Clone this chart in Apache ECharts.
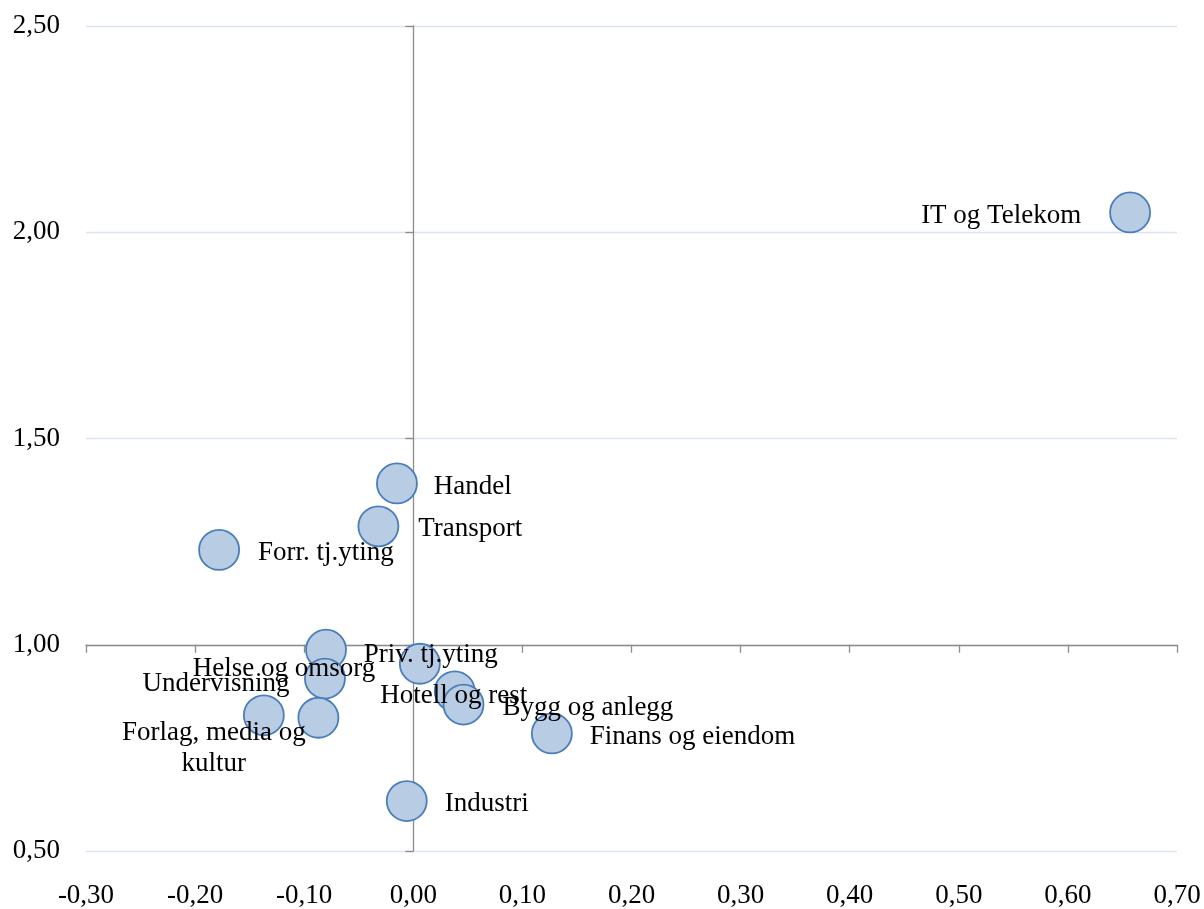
<!DOCTYPE html>
<html>
<head>
<meta charset="utf-8">
<script src="https://cdn.jsdelivr.net/npm/echarts@6/dist/echarts.min.js"></script>
<style>
html,body{margin:0;padding:0;background:#fff;}
#chart{width:1204px;height:909px;}
</style>
</head>
<body>
<div id="chart"></div>
<script>
// ---- data ----
const sectorNames = ['IT og Telekom','Handel','Transport','Forr. tj.yting','Helse og omsorg','Undervisning','Forlag, media og\nkultur','','Priv. tj.yting','Hotell og rest','Bygg og anlegg','Finans og eiendom','Industri'];
const xValues = [0.657, -0.015, -0.032, -0.178, -0.080, -0.081, -0.137, -0.087, 0.006, 0.038, 0.046, 0.127, -0.006];
const yValues = [2.048, 1.391, 1.287, 1.230, 0.988, 0.918, 0.829, 0.823, 0.954, 0.887, 0.855, 0.785, 0.621];
const xTicks = [-0.30, -0.20, -0.10, 0.00, 0.10, 0.20, 0.30, 0.40, 0.50, 0.60, 0.70];
const yTicks = [0.50, 1.00, 1.50, 2.00, 2.50];

// ---- label placement (style, not data) ----
const labelPlacement = [
  {position:'left', distance:28, align:'right', offset:[0,3]},
  {position:'right', distance:16, align:'left', offset:[0,3]},
  {position:'right', distance:19, align:'left', offset:[0,3]},
  {position:'right', distance:18, align:'left', offset:[0,3]},
  {position:'inside', offset:[-42,19], align:'center'},
  {position:'inside', offset:[-109,5], align:'center'},
  {position:'inside', offset:[-50,33], align:'center'},
  {position:'inside', offset:[0,0], align:'center'},
  {position:'inside', offset:[11,-9], align:'center'},
  {position:'inside', offset:[-1,5], align:'center'},
  {position:'right', distance:18, align:'left', offset:[0,3]},
  {position:'right', distance:17, align:'left', offset:[0,3]},
  {position:'right', distance:17, align:'left', offset:[0,3]}
];

const FONT = 'Liberation Serif';
const FS = 27;
const fmt = v => (Math.abs(v) < 1e-9 ? 0 : v).toFixed(2).replace('.', ',');

const seriesData = sectorNames.map((n, i) => ({
  name: n,
  value: [xValues[i], yValues[i]],
  label: Object.assign({show: n !== ''}, labelPlacement[i])
}));

const axisGrey = '#8c8c8c';
const chart = echarts.init(document.getElementById('chart'), null, {renderer:'canvas'});
chart.setOption({
  animation: false,
  backgroundColor: '#ffffff',
  grid: {left: 86, right: 27, top: 26, bottom: 56, containLabel: false},
  xAxis: [
    { type:'value', min: xTicks[0], max: xTicks[xTicks.length-1], interval: 0.1, position:'bottom',
      axisLine:{show:true, onZero:true, onZeroAxisIndex:2, lineStyle:{color:axisGrey, width:1.3}},
      axisTick:{show:true, length:8, lineStyle:{color:axisGrey, width:1.3}},
      axisLabel:{show:false}, splitLine:{show:false} },
    { type:'value', min: xTicks[0], max: xTicks[xTicks.length-1], interval: 0.1, position:'bottom',
      axisLine:{show:false, onZero:false}, axisTick:{show:false},
      axisLabel:{show:true, margin:31, formatter: fmt, fontFamily:FONT, fontSize:FS, color:'#000'},
      splitLine:{show:false} }
  ],
  yAxis: [
    { type:'value', min: yTicks[0], max: yTicks[yTicks.length-1], interval: 0.5, position:'left',
      axisLine:{show:true, onZero:true, onZeroAxisIndex:0, lineStyle:{color:axisGrey, width:1.3}},
      axisTick:{show:true, length:8, lineStyle:{color:axisGrey, width:1.3}},
      axisLabel:{show:false},
      splitLine:{show:true, lineStyle:{color:'#dae3f2', width:1.3}} },
    { type:'value', min: yTicks[0], max: yTicks[yTicks.length-1], interval: 0.5, position:'left',
      axisLine:{show:false, onZero:false}, axisTick:{show:false},
      axisLabel:{show:true, margin:26, formatter: fmt, fontFamily:FONT, fontSize:FS, color:'#000'},
      splitLine:{show:false} },
    { type:'value', min: yTicks[0]-1, max: yTicks[yTicks.length-1]-1, interval: 0.5, position:'right',
      axisLine:{show:false, onZero:false}, axisTick:{show:false}, axisLabel:{show:false}, splitLine:{show:false} }
  ],
  series: [{
    type:'scatter',
    xAxisIndex:0, yAxisIndex:0,
    symbol:'circle',
    symbolSize:40,
    itemStyle:{color:'#b8cce4', borderColor:'#4a7ebb', borderWidth:1.8, opacity:1},
    label:{formatter:'{b}', fontFamily:FONT, fontSize:FS, color:'#000', lineHeight:31},
    data: seriesData,
    z: 3
  }]
});
</script>
</body>
</html>
